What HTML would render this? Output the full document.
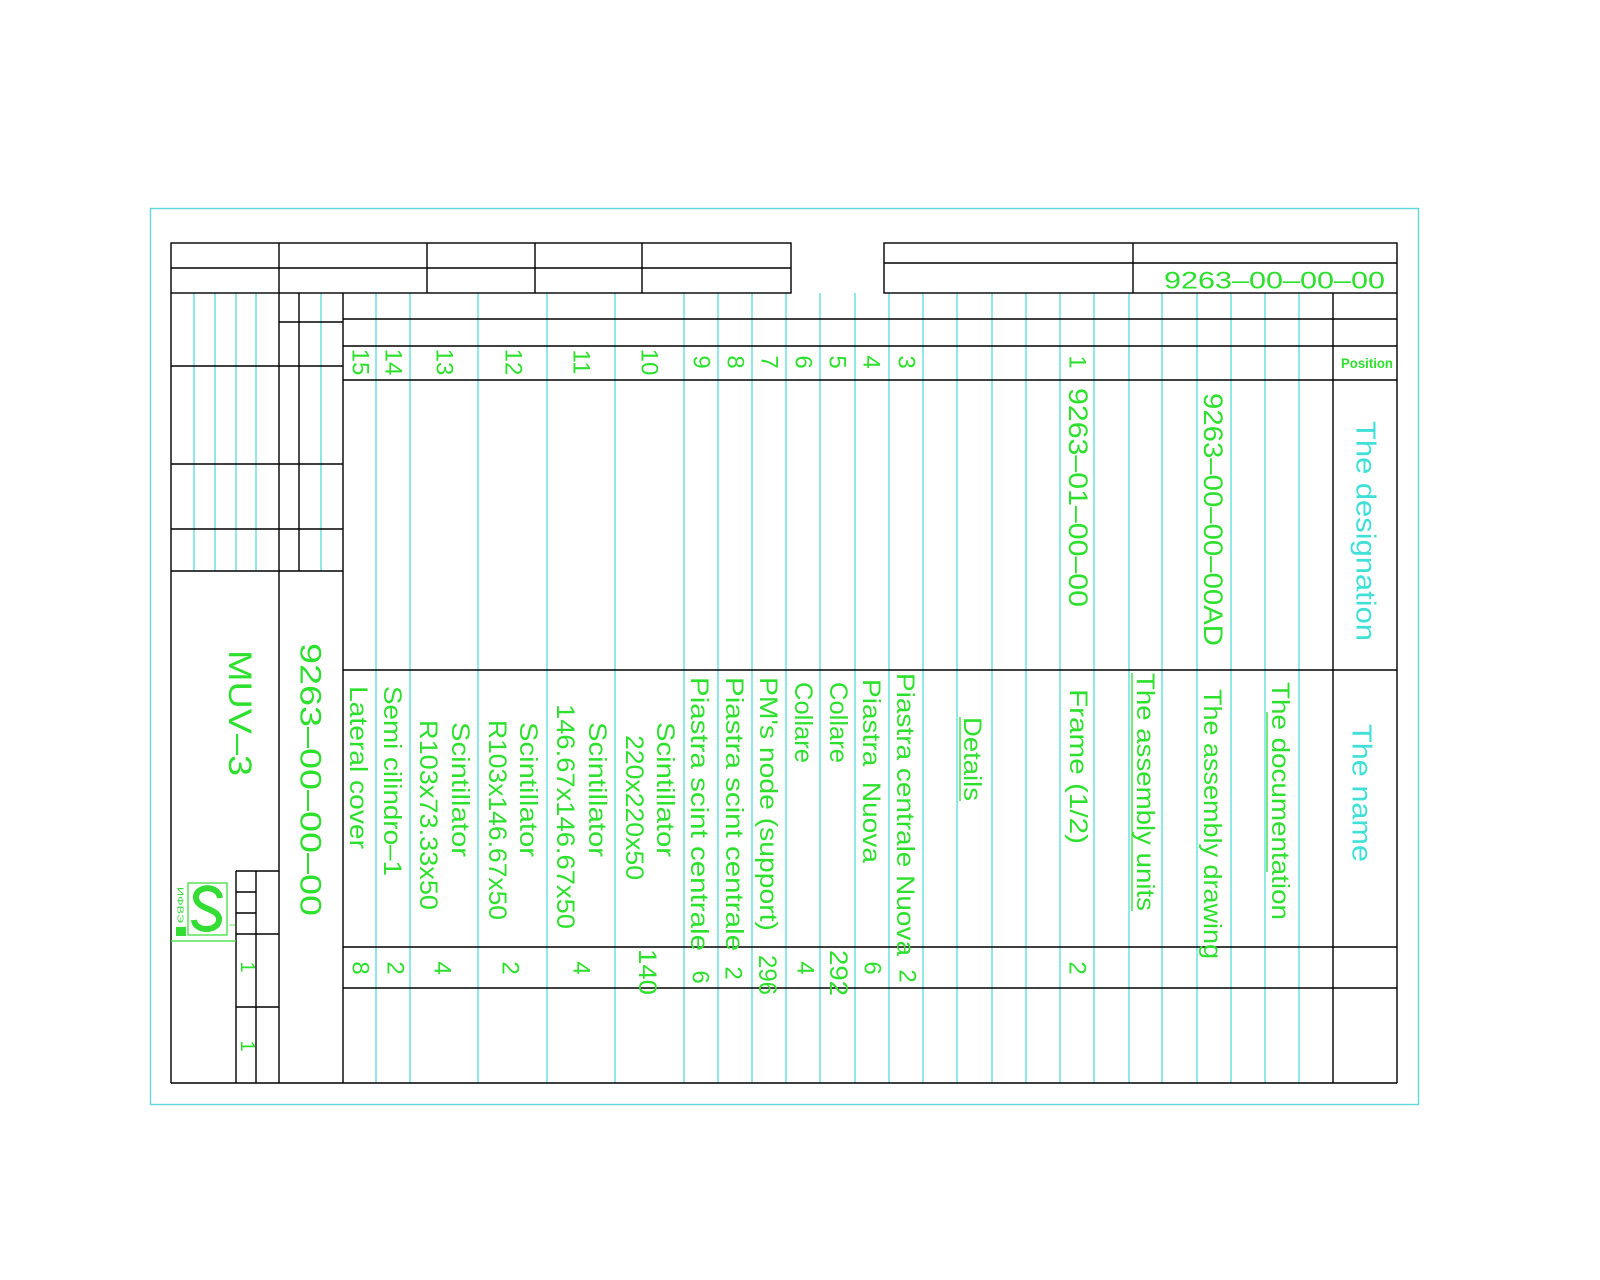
<!DOCTYPE html>
<html><head><meta charset="utf-8"><style>html,body{margin:0;padding:0;background:#fff}svg{display:block}</style></head>
<body>
<svg width="1600" height="1280" viewBox="0 0 1600 1280" xmlns="http://www.w3.org/2000/svg" font-family="Liberation Sans, sans-serif">
<rect x="0" y="0" width="1600" height="1280" fill="#fff"/>
<!-- outer frame -->
<rect x="150.5" y="208.5" width="1268" height="896" fill="none" stroke="#5fd8d8" stroke-width="1.4"/>
<!-- cyan lines -->
<g stroke="#55dcdc" stroke-width="1.3">
<line x1="194" y1="293" x2="194" y2="571"/><line x1="215" y1="293" x2="215" y2="571"/>
<line x1="236" y1="293" x2="236" y2="571"/><line x1="256" y1="293" x2="256" y2="571"/>
<line x1="321" y1="293" x2="321" y2="571"/>
<line x1="376" y1="293" x2="376" y2="1083"/><line x1="410" y1="293" x2="410" y2="1083"/>
<line x1="478" y1="293" x2="478" y2="1083"/><line x1="547" y1="293" x2="547" y2="1083"/>
<line x1="615" y1="293" x2="615" y2="1083"/><line x1="684" y1="293" x2="684" y2="1083"/>
<line x1="718" y1="293" x2="718" y2="1083"/><line x1="752" y1="293" x2="752" y2="1083"/>
<line x1="786" y1="293" x2="786" y2="1083"/><line x1="820" y1="293" x2="820" y2="1083"/>
<line x1="855" y1="293" x2="855" y2="1083"/><line x1="889" y1="293" x2="889" y2="1083"/>
<line x1="923" y1="293" x2="923" y2="1083"/><line x1="957" y1="293" x2="957" y2="1083"/>
<line x1="992" y1="293" x2="992" y2="1083"/><line x1="1026" y1="293" x2="1026" y2="1083"/>
<line x1="1060" y1="293" x2="1060" y2="1083"/><line x1="1094" y1="293" x2="1094" y2="1083"/>
<line x1="1129" y1="293" x2="1129" y2="1083"/><line x1="1162" y1="293" x2="1162" y2="1083"/>
<line x1="1197" y1="293" x2="1197" y2="1083"/><line x1="1231" y1="293" x2="1231" y2="1083"/>
<line x1="1265" y1="293" x2="1265" y2="1083"/><line x1="1299" y1="293" x2="1299" y2="1083"/>
</g>
<!-- black lines -->
<g stroke="#000" stroke-width="1.4" fill="none">
<rect x="171" y="243" width="620" height="50"/>
<line x1="171" y1="268" x2="791" y2="268"/>
<line x1="279" y1="243" x2="279" y2="293"/><line x1="427" y1="243" x2="427" y2="293"/>
<line x1="535" y1="243" x2="535" y2="293"/><line x1="642" y1="243" x2="642" y2="293"/>
<rect x="884" y="243" width="513" height="50"/>
<line x1="884" y1="263" x2="1397" y2="263"/><line x1="1133" y1="243" x2="1133" y2="293"/>
<line x1="171" y1="293" x2="171" y2="1083"/>
<line x1="1397" y1="293" x2="1397" y2="1083"/>
<line x1="171" y1="1083" x2="1397" y2="1083"/>
<line x1="279" y1="293" x2="279" y2="1083"/>
<line x1="299" y1="293" x2="299" y2="571"/>
<line x1="343" y1="293" x2="343" y2="1083"/>
<line x1="1333" y1="293" x2="1333" y2="1083"/>
<line x1="279" y1="322" x2="343" y2="322"/>
<line x1="171" y1="366" x2="343" y2="366"/>
<line x1="171" y1="464" x2="343" y2="464"/>
<line x1="171" y1="529" x2="343" y2="529"/>
<line x1="171" y1="571" x2="343" y2="571"/>
<line x1="343" y1="319" x2="1397" y2="319"/>
<line x1="343" y1="346" x2="1397" y2="346"/>
<line x1="343" y1="380" x2="1397" y2="380"/>
<line x1="343" y1="670" x2="1397" y2="670"/>
<line x1="343" y1="947" x2="1397" y2="947"/>
<line x1="343" y1="988" x2="1397" y2="988"/>
<line x1="236" y1="871" x2="279" y2="871"/>
<line x1="236" y1="871" x2="236" y2="1083"/>
<line x1="256" y1="871" x2="256" y2="1083"/>
<line x1="236" y1="892" x2="256" y2="892"/>
<line x1="236" y1="913" x2="256" y2="913"/>
<line x1="236" y1="934" x2="279" y2="934"/>
<line x1="236" y1="1007" x2="279" y2="1007"/>
</g>
<!-- logo -->
<g>
<line x1="171" y1="941" x2="236" y2="941" stroke="#33dd33" stroke-width="1.2"/>
<rect x="188" y="883" width="39" height="52" fill="none" stroke="#33dd33" stroke-width="1.2"/>
<path d="M220 898 C218 884 195 886 196 898 C197 910 220 908 219 920 C218 932 195 932 194 920" fill="none" stroke="#33dd33" stroke-width="6"/>
<rect x="176" y="927" width="10" height="9" fill="#33dd33"/>
<text transform="translate(180,887) rotate(90)" font-size="8" fill="#33dd33" dominant-baseline="central" textLength="36" lengthAdjust="spacingAndGlyphs">ИФВЭ</text>
<text transform="translate(232,925) rotate(90)" font-size="8" fill="#33dd33" dominant-baseline="central" text-anchor="middle">I</text>
</g>
<g fill="#2ee02e" font-size="25" dominant-baseline="central" lengthAdjust="spacingAndGlyphs">
<!-- top right -->
<text x="1164" y="281" textLength="221" font-size="24" lengthAdjust="spacingAndGlyphs">9263–00–00–00</text>
<text x="1341" y="363" font-size="14" font-weight="bold" textLength="52" lengthAdjust="spacingAndGlyphs">Position</text>
<!-- left -->
<text transform="translate(240,650) rotate(90)" font-size="32" textLength="126" lengthAdjust="spacingAndGlyphs">MUV–3</text>
<text transform="translate(310,643) rotate(90)" font-size="30" textLength="273" lengthAdjust="spacingAndGlyphs">9263–00–00–00</text>
<text transform="translate(247,967) rotate(90)" font-size="20" text-anchor="middle">1</text>
<text transform="translate(247,1046) rotate(90)" font-size="20" text-anchor="middle">1</text>
</g>
<!-- position numbers -->
<g fill="#2ee02e" font-size="24" text-anchor="middle" dominant-baseline="central">
<text transform="translate(360,362) rotate(90)">15</text>
<text transform="translate(393,362) rotate(90)">14</text>
<text transform="translate(444,362) rotate(90)">13</text>
<text transform="translate(513,362) rotate(90)">12</text>
<text transform="translate(581,362) rotate(90)">11</text>
<text transform="translate(649,362) rotate(90)">10</text>
<text transform="translate(701,362) rotate(90)">9</text>
<text transform="translate(735,362) rotate(90)">8</text>
<text transform="translate(769,362) rotate(90)">7</text>
<text transform="translate(803,362) rotate(90)">6</text>
<text transform="translate(837,362) rotate(90)">5</text>
<text transform="translate(871,362) rotate(90)">4</text>
<text transform="translate(906,362) rotate(90)">3</text>
<text transform="translate(1077,362) rotate(90)">1</text>
<!-- quantities -->
<text transform="translate(360,968) rotate(90)">8</text>
<text transform="translate(395,968) rotate(90)">2</text>
<text transform="translate(442,968) rotate(90)">4</text>
<text transform="translate(510,968) rotate(90)">2</text>
<text transform="translate(581,968) rotate(90)">4</text>
<text transform="translate(700,977) rotate(90)">6</text>
<text transform="translate(733,973) rotate(90)">2</text>
<text transform="translate(805,968) rotate(90)">4</text>
<text transform="translate(872,968) rotate(90)">6</text>
<text transform="translate(907,976) rotate(90)">2</text>
<text transform="translate(1077,968) rotate(90)">2</text>
</g>
<g fill="#2ee02e" font-size="25" dominant-baseline="central">
<text transform="translate(647,949) rotate(90)" textLength="46" lengthAdjust="spacingAndGlyphs">140</text>
<text transform="translate(767,955) rotate(90)" textLength="40" lengthAdjust="spacingAndGlyphs">296</text>
<text transform="translate(838,950) rotate(90)" textLength="46" lengthAdjust="spacingAndGlyphs">292</text>
<!-- names -->
<text transform="translate(358,686) rotate(90)" textLength="163" lengthAdjust="spacingAndGlyphs">Lateral cover</text>
<text transform="translate(392,686) rotate(90)" textLength="190" lengthAdjust="spacingAndGlyphs">Semi cilindro–1</text>
<text transform="translate(460,722) rotate(90)" textLength="135" lengthAdjust="spacingAndGlyphs">Scintillator</text>
<text transform="translate(428,720) rotate(90)" textLength="190" lengthAdjust="spacingAndGlyphs">R103x73.33x50</text>
<text transform="translate(528,722) rotate(90)" textLength="135" lengthAdjust="spacingAndGlyphs">Scintillator</text>
<text transform="translate(497,720) rotate(90)" textLength="200" lengthAdjust="spacingAndGlyphs">R103x146.67x50</text>
<text transform="translate(597,722) rotate(90)" textLength="135" lengthAdjust="spacingAndGlyphs">Scintillator</text>
<text transform="translate(565,704) rotate(90)" textLength="225" lengthAdjust="spacingAndGlyphs">146.67x146.67x50</text>
<text transform="translate(665,722) rotate(90)" textLength="135" lengthAdjust="spacingAndGlyphs">Scintillator</text>
<text transform="translate(634,735) rotate(90)" textLength="145" lengthAdjust="spacingAndGlyphs">220x220x50</text>
<text transform="translate(699,677) rotate(90)" textLength="274" lengthAdjust="spacingAndGlyphs">Piastra scint centrale</text>
<text transform="translate(734,677) rotate(90)" textLength="274" lengthAdjust="spacingAndGlyphs">Piastra scint centrale</text>
<text transform="translate(768,677) rotate(90)" textLength="254" lengthAdjust="spacingAndGlyphs">PM's node (support)</text>
<text transform="translate(803,682) rotate(90)" textLength="81" lengthAdjust="spacingAndGlyphs">Collare</text>
<text transform="translate(838,682) rotate(90)" textLength="81" lengthAdjust="spacingAndGlyphs">Collare</text>
<text transform="translate(871,679) rotate(90)" textLength="184" lengthAdjust="spacingAndGlyphs" xml:space="preserve">Piastra  Nuova</text>
<text transform="translate(905,673) rotate(90)" textLength="283" lengthAdjust="spacingAndGlyphs">Piastra centrale Nuova</text>
<text transform="translate(972,717) rotate(90)" textLength="84" lengthAdjust="spacingAndGlyphs">Details</text>
<text transform="translate(1078,689) rotate(90)" textLength="155" lengthAdjust="spacingAndGlyphs">Frame (1/2)</text>
<text transform="translate(1145,673) rotate(90)" textLength="238" lengthAdjust="spacingAndGlyphs">The assembly units</text>
<text transform="translate(1212,689) rotate(90)" textLength="270" lengthAdjust="spacingAndGlyphs">The assembly drawing</text>
<text transform="translate(1280,682) rotate(90)" textLength="238" lengthAdjust="spacingAndGlyphs">The documentation</text>
<!-- designations -->
<text transform="translate(1078,388) rotate(90)" font-size="27" textLength="219" lengthAdjust="spacingAndGlyphs">9263–01–00–00</text>
<text transform="translate(1213,393) rotate(90)" font-size="27" textLength="253" lengthAdjust="spacingAndGlyphs">9263–00–00–00AD</text>
</g>
<!-- underlines -->
<g stroke="#2ee02e" stroke-width="1.3">
<line x1="960" y1="717" x2="960" y2="801"/>
<line x1="1132" y1="673" x2="1132" y2="911"/>
<line x1="1267" y1="712" x2="1267" y2="872"/>
</g>
<g fill="#40e0d8" font-size="28" dominant-baseline="central">
<text transform="translate(1366,421) rotate(90)" textLength="220" lengthAdjust="spacingAndGlyphs">The designation</text>
<text transform="translate(1362,724) rotate(90)" textLength="138" lengthAdjust="spacingAndGlyphs">The name</text>
</g>
</svg>
</body></html>
